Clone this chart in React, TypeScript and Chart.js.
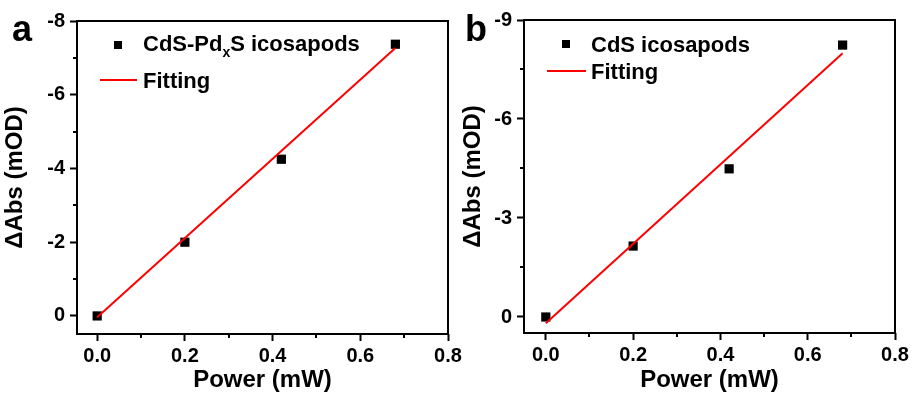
import React, { useEffect, useRef } from 'react';
import { Chart, registerables } from 'chart.js';

Chart.register(...registerables);

const FONT = '"Liberation Sans", Arial, Helvetica, sans-serif';

// ---- Panel a: CdS-PdxS icosapods ----
const powerA = [0, 0.2, 0.42, 0.68];
const absA = [0, -2.0, -4.25, -7.37];
const fitPowerA = [0, 0.68];
const fitAbsA = [0.035, -7.27];
const yTicksA = [-8, -6, -4, -2, 0];
const yMinorA = [-7, -5, -3, -1];

// ---- Panel b: CdS icosapods ----
const powerB = [0, 0.2, 0.42, 0.68];
const absB = [0, -2.15, -4.49, -8.24];
const fitPowerB = [0, 0.68];
const fitAbsB = [0.19, -7.99];
const yTicksB = [-9, -6, -3, 0];
const yMinorB = [-7.5, -4.5, -1.5];

// ---- shared x axis ----
const xTicks = [0, 0.2, 0.4, 0.6, 0.8];
const xMinor = [0.1, 0.3, 0.5, 0.7];

const toXY = (xs: number[], ys: number[]) => xs.map((x, i) => ({ x, y: ys[i] }));

const framePlugin = {
  id: 'frame',
  afterDraw(chart: any, _args: any, opts: any) {
    const { ctx, chartArea } = chart;
    const xs = chart.scales.x;
    const ys = chart.scales.y;
    ctx.save();
    ctx.strokeStyle = '#000';
    ctx.lineWidth = 2;
    ctx.strokeRect(chartArea.left, chartArea.top, chartArea.right - chartArea.left, chartArea.bottom - chartArea.top);
    // minor ticks
    ctx.beginPath();
    (opts.yMinor || []).forEach((v: number) => {
      const p = Math.round(ys.getPixelForValue(v));
      ctx.moveTo(chartArea.left - 4, p);
      ctx.lineTo(chartArea.left, p);
    });
    (opts.xMinor || []).forEach((v: number) => {
      const p = Math.round(xs.getPixelForValue(v));
      ctx.moveTo(p, chartArea.bottom);
      ctx.lineTo(p, chartArea.bottom + 4);
    });
    ctx.stroke();
    // panel letter
    ctx.fillStyle = '#000';
    ctx.font = `bold 36px ${FONT}`;
    ctx.textBaseline = 'alphabetic';
    ctx.textAlign = 'left';
    ctx.fillText(opts.letter, opts.letterX, opts.letterY);
    ctx.restore();
  },
};

const legendPlugin = {
  id: 'customLegend',
  afterDraw(chart: any, _args: any, opts: any) {
    const { ctx } = chart;
    ctx.save();
    ctx.fillStyle = '#000';
    ctx.fillRect(opts.markerX - 4, opts.row1Mark - 4, 8, 8);
    ctx.textBaseline = 'alphabetic';
    ctx.textAlign = 'left';
    let x = opts.textX;
    (opts.parts as { text: string; sub?: boolean }[]).forEach((p) => {
      ctx.font = p.sub ? `bold 14px ${FONT}` : `bold 22px ${FONT}`;
      ctx.fillText(p.text, x, p.sub ? opts.row1 + 6 : opts.row1);
      x += ctx.measureText(p.text).width;
    });
    ctx.strokeStyle = '#ff0000';
    ctx.lineWidth = 2;
    ctx.beginPath();
    ctx.moveTo(opts.lineX0, opts.row2Mark);
    ctx.lineTo(opts.lineX1, opts.row2Mark);
    ctx.stroke();
    ctx.font = `bold 22px ${FONT}`;
    ctx.fillText('Fitting', opts.textX, opts.row2);
    ctx.restore();
  },
};

type PanelCfg = {
  left: number;
  width: number;
  xMin: number;
  yMin: number;
  yMax: number;
  yTicks: number[];
  yMinor: number[];
  power: number[];
  abs: number[];
  fitPower: number[];
  fitAbs: number[];
  areaLeft: number;
  areaTop: number;
  areaBottom: number;
  areaRight: number;
  legend: any;
  letter: string;
  letterX: number;
  letterY: number;
};

function Panel({ cfg }: { cfg: PanelCfg }) {
  const ref = useRef<HTMLCanvasElement | null>(null);
  useEffect(() => {
    if (!ref.current) return;
    const chart = new Chart(ref.current, {
      type: 'scatter',
      data: {
        datasets: [
          {
            label: 'Fitting',
            data: toXY(cfg.fitPower, cfg.fitAbs),
            showLine: true,
            borderColor: '#ff0000',
            borderWidth: 2,
            pointRadius: 0,
            fill: false,
          } as any,
          {
            label: 'data',
            data: toXY(cfg.power, cfg.abs),
            pointStyle: 'rect',
            pointRadius: 6.5,
            backgroundColor: '#000',
            borderWidth: 0,
          },
        ],
      },
      plugins: [framePlugin, legendPlugin],
      options: {
        responsive: false,
        animation: false,
        devicePixelRatio: 1,
        layout: {
          padding: { top: cfg.areaTop, right: cfg.width - cfg.areaRight, left: 0, bottom: 0 },
        },
        plugins: {
          legend: { display: false },
          tooltip: { enabled: false },
          frame: { yMinor: cfg.yMinor, xMinor, letter: cfg.letter, letterX: cfg.letterX, letterY: cfg.letterY },
          customLegend: cfg.legend,
        } as any,
        scales: {
          x: {
            type: 'linear',
            min: cfg.xMin,
            max: 0.8,
            afterBuildTicks: (s: any) => {
              s.ticks = xTicks.map((v) => ({ value: v }));
            },
            afterFit: (s: any) => {
              s.height = 399 - cfg.areaBottom;
            },
            ticks: {
              color: '#000',
              font: { family: FONT, size: 20, weight: 'bold' },
              padding: 3,
              maxRotation: 0,
              autoSkip: false,
              callback: (v: any) => Number(v).toFixed(1),
            },
            grid: { drawOnChartArea: false, tickLength: 7, tickWidth: 2, tickColor: '#000' },
            border: { display: false },
            title: {
              display: true,
              text: 'Power (mW)',
              color: '#000',
              font: { family: FONT, size: 24, weight: 'bold', lineHeight: 1.2 },
              padding: { top: 0, bottom: 4 },
            },
          },
          y: {
            type: 'linear',
            reverse: true,
            min: cfg.yMin,
            max: cfg.yMax,
            afterBuildTicks: (s: any) => {
              s.ticks = cfg.yTicks.map((v) => ({ value: v }));
            },
            afterFit: (s: any) => {
              s.width = cfg.areaLeft;
            },
            ticks: {
              color: '#000',
              font: { family: FONT, size: 20, weight: 'bold' },
              padding: 5,
              autoSkip: false,
              callback: (v: any) => String(v),
            },
            grid: { drawOnChartArea: false, tickLength: 7, tickWidth: 2, tickColor: '#000' },
            border: { display: false },
            title: {
              display: true,
              text: 'ΔAbs (mOD)',
              color: '#000',
              font: { family: FONT, size: 24, weight: 'bold', lineHeight: 1.2 },
              padding: { top: 1, bottom: 0 },
            },
          },
        },
      } as any,
    });
    return () => chart.destroy();
  }, []);
  return (
    <canvas
      ref={ref}
      width={cfg.width}
      height={399}
      style={{ position: 'absolute', left: cfg.left, top: 0, width: cfg.width, height: 399 }}
    />
  );
}

const panelA: PanelCfg = {
  left: 0,
  width: 480,
  xMin: -0.046,
  yMin: -8,
  yMax: 0.49,
  yTicks: yTicksA,
  yMinor: yMinorA,
  power: powerA,
  abs: absA,
  fitPower: fitPowerA,
  fitAbs: fitAbsA,
  areaLeft: 77,
  areaTop: 21,
  areaBottom: 334,
  areaRight: 448,
  letter: 'a',
  letterX: 12,
  letterY: 41,
  legend: {
    markerX: 118,
    row1Mark: 45,
    textX: 143,
    row1: 51,
    parts: [{ text: 'CdS-Pd' }, { text: 'x', sub: true }, { text: 'S icosapods' }],
    lineX0: 100,
    lineX1: 137,
    row2Mark: 80,
    row2: 88,
  },
};

const panelB: PanelCfg = {
  left: 458,
  width: 459,
  xMin: -0.05,
  yMin: -9,
  yMax: 0.485,
  yTicks: yTicksB,
  yMinor: yMinorB,
  power: powerB,
  abs: absB,
  fitPower: fitPowerB,
  fitAbs: fitAbsB,
  areaLeft: 66,
  areaTop: 20,
  areaBottom: 333,
  areaRight: 437,
  letter: 'b',
  letterX: 7,
  letterY: 41,
  legend: {
    markerX: 108,
    row1Mark: 44,
    textX: 133,
    row1: 52,
    parts: [{ text: 'CdS icosapods' }],
    lineX0: 89,
    lineX1: 128,
    row2Mark: 71,
    row2: 79,
  },
};

export default function App() {
  return (
    <div style={{ position: 'absolute', left: 0, top: 0, width: 917, height: 399, background: '#fff' }}>
      <Panel cfg={panelA} />
      <Panel cfg={panelB} />
    </div>
  );
}
